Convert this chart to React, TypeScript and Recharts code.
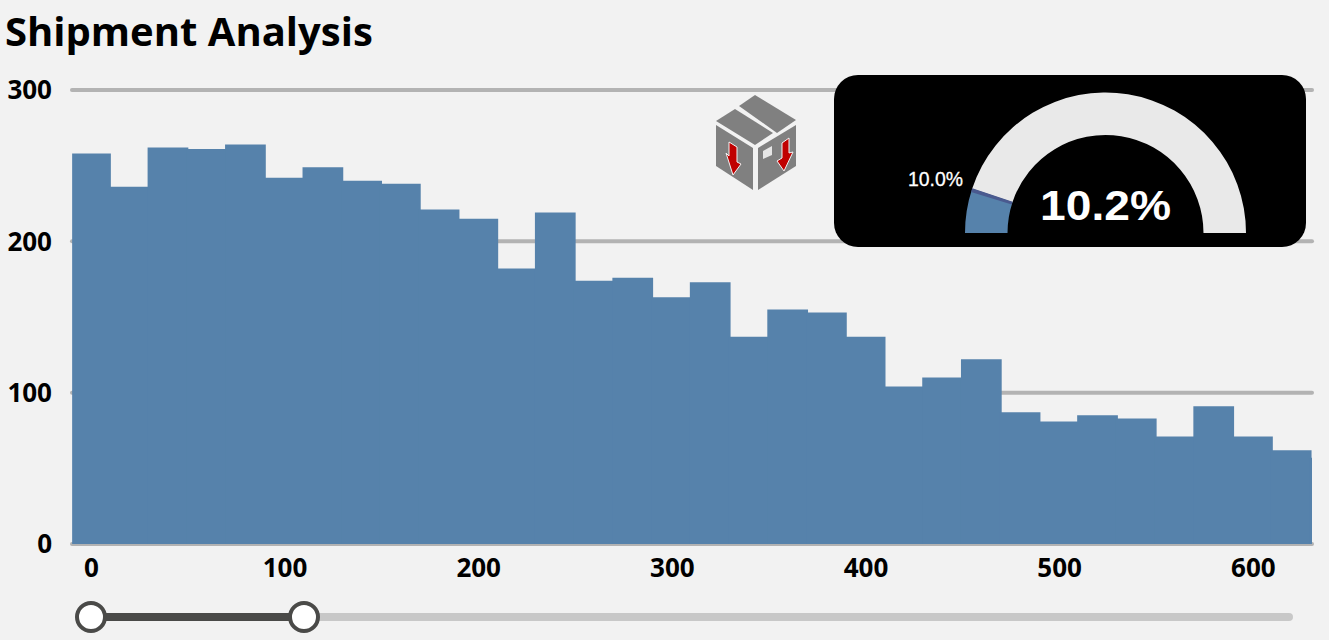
import { Bar, BarChart, CartesianGrid, Cell, Pie, PieChart, Rectangle, XAxis, YAxis } from "recharts";

const binStarts = [
  0, 20, 40, 60, 80, 100, 120, 140, 160, 180, 200, 220, 240, 260, 280, 300, 320,
  340, 360, 380, 400, 420, 440, 460, 480, 500, 520, 540, 560, 580, 600, 620, 640,
];
const shipments = [
  258, 236, 262, 261, 264, 242, 249, 240, 238, 221, 215, 182, 219, 174, 176, 163, 173,
  137, 155, 153, 137, 104, 110, 122, 87, 81, 85, 83, 71, 91, 71, 62, 57,
];
const xTicks = [0, 100, 200, 300, 400, 500, 600];
const yTicks = [0, 100, 200, 300];

const gaugeNames = ["Actual", "Remaining"];
const gaugeValues = [10.2, 89.8];
const targetNames = ["Before", "Target", "After"];
const targetValues = [9.4, 0.9, 89.7];

const data = binStarts.map((bin, i) => ({ bin, shipments: shipments[i] }));
const gaugeData = gaugeNames.map((name, i) => ({ name, value: gaugeValues[i] }));
const targetData = targetNames.map((name, i) => ({ name, value: targetValues[i] }));

const BLUE = "#5682ab";
const labelFont = "'Open Sans', sans-serif";
const BIN_WIDTH = 38.73;

// bars touch each other, and each one reaches a little to the left under its neighbour
function WideBar(props: any) {
  const center = props.x + props.width / 2;
  const extra = props.index === 0 ? 0 : 2;
  const left = center - BIN_WIDTH / 2 - extra;
  return <Rectangle x={left} y={props.y} width={BIN_WIDTH + extra} height={props.height} fill={BLUE} stroke="none" />;
}

function BoxIcon() {
  return (
    <svg width={95} height={105} viewBox="710 90 95 105" style={{ position: "absolute", left: 710, top: 90 }}>
      <polygon points="755,95 796,120 777,133 739,106" fill="#808080" />
      <polygon points="735,109 773,133 755,145 716,121" fill="#808080" />
      <polygon points="716,125 753,148 753,190 716,166" fill="#808080" />
      <polygon points="758,148 796,125 796,166 758,190" fill="#808080" />
      <polygon points="763,151 772,146 772,155 763,159" fill="#e6e6e6" />
      <polygon points="729,142 737,147 737,162 741,164 733,175 726,153 729,156" fill="#c00000" stroke="#f2f2f2" strokeWidth={1} />
      <polygon points="782,143 789,138 789,153 793,152 784,171 777,161 782,158" fill="#c00000" stroke="#f2f2f2" strokeWidth={1} />
    </svg>
  );
}

function Gauge() {
  return (
    <div style={{ position: "absolute", left: 834, top: 75, width: 472, height: 172, background: "#000", borderRadius: 24 }}>
      <PieChart width={472} height={172} margin={{ top: 0, right: 0, bottom: 0, left: 0 }}>
        <Pie
          data={gaugeData}
          dataKey="value"
          cx={271.5}
          cy={158}
          startAngle={180}
          endAngle={0}
          innerRadius={98}
          outerRadius={140.5}
          stroke="none"
          isAnimationActive={false}
        >
          <Cell fill={BLUE} />
          <Cell fill="#e9e9e9" />
        </Pie>
        <Pie
          data={targetData}
          dataKey="value"
          cx={271.5}
          cy={158}
          startAngle={180}
          endAngle={0}
          innerRadius={98}
          outerRadius={140.5}
          stroke="none"
          isAnimationActive={false}
        >
          <Cell fill="none" />
          <Cell fill="#4a5a8f" />
          <Cell fill="none" />
        </Pie>
      </PieChart>
      <svg width={472} height={172} style={{ position: "absolute", left: 0, top: 0 }}>
        <text
          x={74}
          y={111}
          fill="#fff"
          stroke="#fff"
          strokeWidth={0.3}
          fontFamily="'Liberation Sans', sans-serif"
          fontSize={21}
          textLength={55}
          lengthAdjust="spacingAndGlyphs"
        >
          10.0%
        </text>
        <text
          x={206}
          y={145}
          fill="#fff"
          fontFamily="'Liberation Sans', sans-serif"
          fontWeight={700}
          fontSize={42}
          textLength={131}
          lengthAdjust="spacingAndGlyphs"
        >
          10.2%
        </text>
      </svg>
    </div>
  );
}

function RangeSlider() {
  const y = 617;
  return (
    <>
      <div style={{ position: "absolute", left: 91, top: y - 4, width: 1202, height: 8, borderRadius: 4, background: "#c8c8c8" }} />
      <div style={{ position: "absolute", left: 91, top: y - 4, width: 213, height: 8, background: "#4a4a48" }} />
      {[91, 304].map((x) => (
        <div
          key={x}
          style={{
            position: "absolute",
            left: x - 16,
            top: y - 16,
            width: 24,
            height: 24,
            boxSizing: "content-box",
            borderRadius: "50%",
            background: "#fff",
            border: "4px solid #4a4a48",
          }}
        />
      ))}
    </>
  );
}

export default function App() {
  return (
    <div style={{ position: "absolute", left: 0, top: 0, width: 1329, height: 640, background: "#f2f2f2", overflow: "hidden" }}>
      <div style={{ position: "absolute", left: 5, top: 5, fontFamily: labelFont, fontWeight: 700, fontSize: 40, lineHeight: "52px", color: "#000" }}>
        Shipment Analysis
      </div>
      <div style={{ position: "absolute", left: 0, top: 0 }}>
        <BarChart width={1329} height={640} data={data} margin={{ top: 90, right: 17, bottom: 0, left: 0 }} barCategoryGap={0}>
          <CartesianGrid vertical={false} stroke="#b3b3b3" strokeWidth={4} strokeLinecap="round" />
          <XAxis
            type="number"
            dataKey="bin"
            domain={[-10, 630.3]}
            allowDataOverflow
            ticks={xTicks}
            height={96}
            axisLine={false}
            tickLine={false}
            tickMargin={9}
            tick={{ fill: "#000", fontFamily: labelFont, fontWeight: 700, fontSize: 26 }}
          />
          <YAxis
            domain={[0, 300]}
            ticks={yTicks}
            width={72}
            axisLine={false}
            tickLine={false}
            tickMargin={14}
            tick={{ fill: "#000", fontFamily: labelFont, fontWeight: 700, fontSize: 26 }}
          />
          <Bar dataKey="shipments" fill={BLUE} shape={WideBar} isAnimationActive={false} />
        </BarChart>
      </div>
      <BoxIcon />
      <Gauge />
      <RangeSlider />
    </div>
  );
}
